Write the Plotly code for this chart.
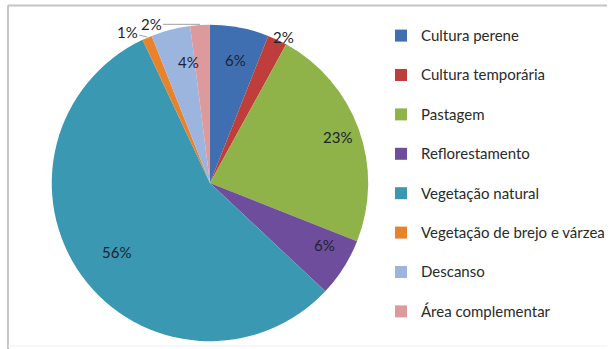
import math
import plotly.graph_objects as go

# Land-use shares (%)
categorias = [
    "Cultura perene",
    "Cultura temporária",
    "Pastagem",
    "Reflorestamento",
    "Vegetação natural",
    "Vegetação de brejo e várzea",
    "Descanso",
    "Área complementar",
]
percentuais = [6, 2, 23, 6, 56, 1, 4, 2]

cores = ["#3f6fb0", "#bf3d3b", "#8fb249", "#6e4e9c", "#3b98b3",
         "#e8832c", "#9cb5de", "#dd9a9c"]

W, H = 610, 349
# pie box in pixels (left, right, top, bottom)
px_l, px_r, px_t, px_b = 52, 370, 24, 342
cx_px = (px_l + px_r) / 2
cy_px = (px_t + px_b) / 2
raio = min(px_r - px_l, px_b - px_t) / 2

# legend entries: 15px text, spaced with an empty second line
rotulos = [f"<span style='font-size:15px'>{c}</span><br> " for c in categorias]

fig = go.Figure(go.Pie(
    labels=rotulos,
    values=percentuais,
    sort=False,
    direction="clockwise",
    rotation=0,
    textinfo="none",
    marker=dict(colors=cores, line=dict(width=0)),
    domain=dict(x=[px_l / W, px_r / W], y=[1 - px_b / H, 1 - px_t / H]),
    hoverinfo="percent",
))

# percentage labels, placed along each slice's bisector
total = sum(percentuais)
fora = {1: ("radial", 1.09), 5: ("leader", (-20, -5)), 7: ("leader", (-49, 0))}
acum = 0
anot = []
for i, v in enumerate(percentuais):
    ang = 2 * math.pi * (acum + v / 2) / total
    acum += v
    s, c = math.sin(ang), math.cos(ang)
    txt = f"{v}%"
    fonte = dict(family="Lato", size=15, color="#1c2430")
    if i in fora and fora[i][0] == "leader":
        ax, ay = fora[i][1]
        x = (cx_px + raio * s) / W
        y = 1 - (cy_px - raio * c) / H
        anot.append(dict(x=x, y=y, xref="paper", yref="paper", text=txt,
                         showarrow=True, arrowhead=0, arrowwidth=1,
                         arrowcolor="#a0a0a0", ax=ax, ay=ay, font=fonte,
                         standoff=0))
    else:
        k = fora[i][1] if i in fora else 0.86
        x = (cx_px + k * raio * s) / W
        y = 1 - (cy_px - k * raio * c) / H
        anot.append(dict(x=x, y=y, xref="paper", yref="paper", text=txt,
                         showarrow=False, font=fonte))

# chart frame
moldura = [
    dict(type="line", xref="paper", yref="paper", x0=8 / W, x1=1,
         y0=1 - 5.5 / H, y1=1 - 5.5 / H, line=dict(color="#c4c4c4", width=2)),
    dict(type="line", xref="paper", yref="paper", x0=8 / W, x1=8 / W,
         y0=0, y1=1 - 5.5 / H, line=dict(color="#c4c4c4", width=2)),
    dict(type="line", xref="paper", yref="paper", x0=8 / W, x1=1,
         y0=3 / H, y1=3 / H, line=dict(color="#efefef", width=1)),
]

fig.update_layout(
    width=W, height=H,
    margin=dict(l=0, r=0, t=0, b=0),
    paper_bgcolor="white",
    plot_bgcolor="white",
    showlegend=True,
    legend=dict(
        x=383 / W, y=1 - 20 / H, xanchor="left", yanchor="top",
        font=dict(family="Lato", size=14, color="#2a2a2a"),
        valign="top", itemwidth=30, bgcolor="rgba(0,0,0,0)",
    ),
    annotations=anot,
    shapes=moldura,
)

fig.write_html("out.html")
